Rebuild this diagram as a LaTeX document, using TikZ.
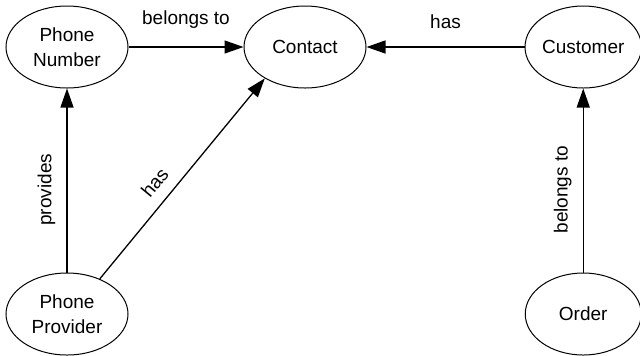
\documentclass[tikz,border=0pt]{standalone}
\usepackage{fontspec}
\setmainfont{Liberation Sans}
\usetikzlibrary{positioning, arrows.meta, shapes.geometric}
\tikzset{
  entity/.style = {draw, ellipse, line width=0.5pt, minimum width=61pt, minimum height=41pt, inner sep=0pt, align=center, font=\fontsize{9.5}{12.5}\selectfont},
  rel/.style    = {inner sep=0pt, font=\fontsize{9.5}{11}\selectfont},
  arrow/.style  = {-{Triangle[length=9.5pt, width=6.5pt]}, line width=0.65pt}
}
\begin{document}
\begin{tikzpicture}[x=0.5pt, y=-0.5pt]
  \useasboundingbox (0,0) rectangle (640,355);
  \node[entity]                                          (number)   at (67,47) {Phone\\Number};
  \node[entity, right=57.5pt of number]                  (contact)  {Contact};
  \node[entity, minimum width=58pt, right=79pt of contact] (customer) {Customer};
  \node[entity, below=92pt of number]                    (provider) {Phone\\Provider};
  \node[entity, minimum width=58pt, below=92pt of customer] (order)  {Order};
  \draw[arrow] (number) -- node[rel, above=9pt] {belongs to} (contact);
  \draw[arrow] (customer) -- node[rel, above=9pt] {has} (contact);
  \draw[arrow] (provider) -- node[rel, pos=0.45, sloped, above=5.5pt] {provides} (number);
  \draw[arrow] (provider.47) -- node[rel, pos=0.42, sloped, above=5.5pt] {has} (contact.218);
  \draw[arrow] (order) -- node[rel, pos=0.45, sloped, above=5.5pt] {belongs to} (customer);
\end{tikzpicture}
\end{document}
